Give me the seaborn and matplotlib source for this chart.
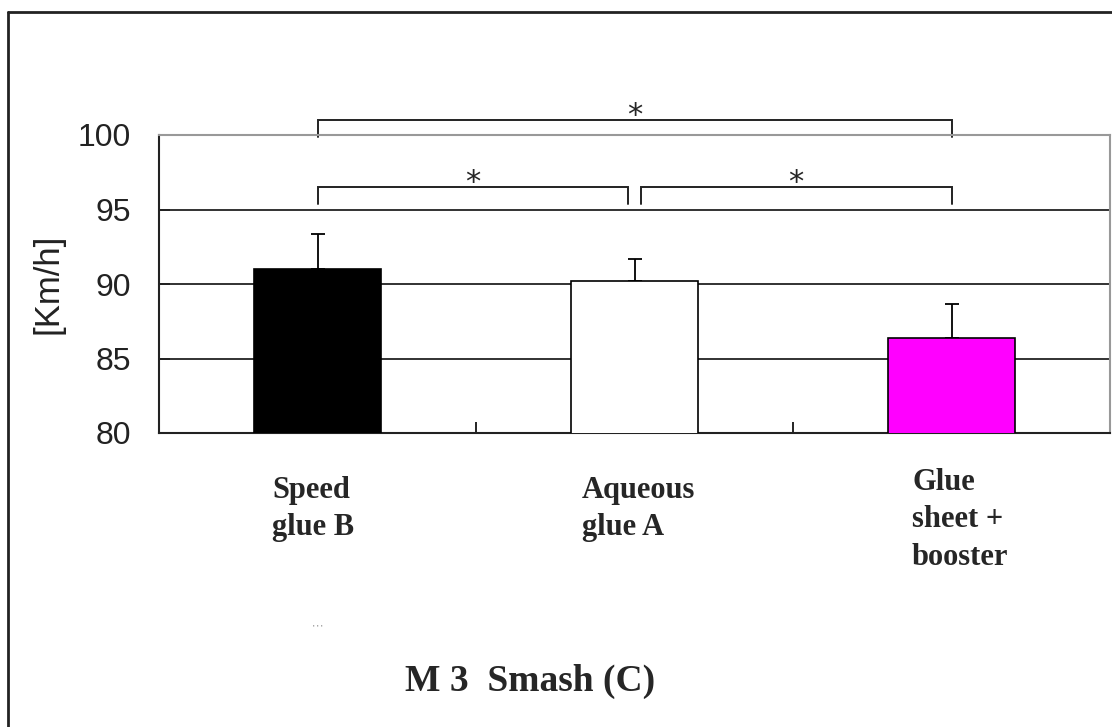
import matplotlib
matplotlib.use("Agg")
import matplotlib.pyplot as plt
import seaborn as sns
import pandas as pd
from matplotlib.lines import Line2D

# ---- data ----
categories = ["Speed\nglue B", "Aqueous\nglue A", "Glue\nsheet +\nbooster"]
means = [91.0, 90.2, 86.35]
sds = [2.35, 1.5, 2.3]
colors = ["#000000", "#ffffff", "#ff00ff"]
yticks = [80, 85, 90, 95, 100]
sig_labels = ["*", "*", "*"]
title = "M 3  Smash (C)"
ylabel = "[Km/h]"

sns.set_theme(style="white")
plt.rcParams["font.family"] = ["Liberation Sans", "DejaVu Sans"]

fig = plt.figure(figsize=(11.12, 7.27), dpi=100)
ax = fig.add_axes([159 / 1112, 1 - 433 / 727, (1110 - 159) / 1112, (433 - 135) / 727])

df = pd.DataFrame({"cat": categories, "val": means})
sns.barplot(data=df, x="cat", y="val", hue="cat", palette=colors, legend=False, saturation=1,
            width=0.4, edgecolor="black", linewidth=1.2, errorbar=None, ax=ax, zorder=3)
ax.errorbar(range(len(means)), means, yerr=[[0] * len(sds), sds], fmt="none",
            ecolor="black", elinewidth=1.3, capsize=5, capthick=1.3, zorder=2)

ax.set_ylim(80, 100)
ax.set_xlim(-0.5, 2.5)
ax.set_yticks(yticks)
ax.set_yticklabels([str(t) for t in yticks], fontsize=23)
ax.set_xticks([0.5, 1.5])
ax.set_xticklabels([])
ax.tick_params(axis="x", direction="in", length=8, width=1.2, color="black", bottom=True)
ax.tick_params(axis="y", direction="in", length=8, width=1.2, color="black", left=True, pad=20,
               labelcolor="#222222")
ax.set_xlabel("")
ax.set_ylabel(ylabel, fontsize=25, color="#222222")
ax.yaxis.set_label_coords(-0.099, 0.5)

for g in [85, 90, 95]:
    ax.axhline(g, color="#222222", lw=1.3, zorder=1)

for side in ["left", "bottom"]:
    ax.spines[side].set_color("#222222")
    ax.spines[side].set_linewidth(1.5)
for side in ["top", "right"]:
    ax.spines[side].set_color("#999999")
    ax.spines[side].set_linewidth(1.5)

# significance brackets
def bracket(x1, x2, y, drop, label, star_y):
    ax.plot([x1, x1, x2, x2], [drop, y, y, drop], color="#222222", lw=1.4, clip_on=False,
            solid_joinstyle="miter")
    ax.text((x1 + x2) / 2, star_y, label, ha="center", va="center", fontsize=22,
            family="DejaVu Sans", clip_on=False)

bracket(0.0, 0.98, 96.5, 95.35, sig_labels[0], 96.8)
bracket(1.02, 2.0, 96.5, 95.35, sig_labels[1], 96.8)
bracket(0.0, 2.0, 101.0, 99.85, sig_labels[2], 101.3)

# category labels
label_x = [272, 582, 912]
label_top = [476, 476, 468]
for lab, lx, lt in zip(categories, label_x, label_top):
    fig.text(lx / 1112, 1 - lt / 727, lab, ha="left", va="top", fontsize=22,
             fontweight="bold", family="Liberation Serif", linespacing=1.38)

fig.text(530 / 1112, 1 - 681 / 727, title, ha="center", va="center", fontsize=27,
         fontweight="bold", family="Liberation Serif")

fig.text(318 / 1112, 1 - 628 / 727, "' ' '", ha="center", va="center", fontsize=6,
         color="#555555")

# outer frame
fig.add_artist(Line2D([8 / 1112, 1.0], [1 - 12 / 727, 1 - 12 / 727], color="#222222", lw=2,
                      transform=fig.transFigure))
fig.add_artist(Line2D([8 / 1112, 8 / 1112], [1 - 12 / 727, 0.0], color="#222222", lw=2,
                      transform=fig.transFigure))

fig.savefig("out.png", dpi=100)
